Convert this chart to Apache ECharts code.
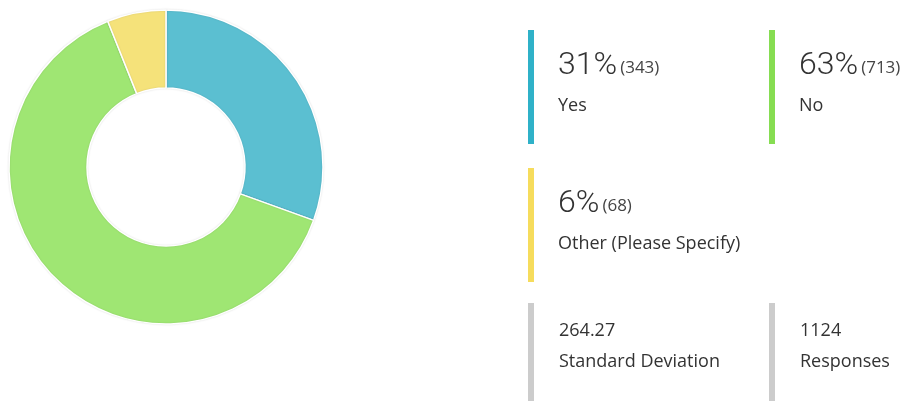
<!DOCTYPE html>
<html>
<head>
<meta charset="utf-8">
<script src="https://cdn.jsdelivr.net/npm/echarts@6/dist/echarts.min.js"></script>
<style>
  html, body { margin: 0; padding: 0; background: #fff; }
  #chart { width: 908px; height: 401px; }
</style>
</head>
<body>
<div id="chart"></div>
<script>
// data
const categories = ['Yes', 'No', 'Other (Please Specify)']
const counts = [343, 713, 68]
const statLabels = ['Standard Deviation', 'Responses']
const statValues = ['264.27', '1124']

const sliceColors = ['#5bbfd1', '#9fe673', '#f5e27a']
const barColors = ['#2fb1c8', '#86dd52', '#f6dc5c']
const BIG_FONT = 'Roboto, "Noto Sans", sans-serif'
const FONT = '"Open Sans", "Noto Sans", sans-serif'

const total = counts.reduce((a, b) => a + b, 0)

// measure text so the small "(n)" sits right after the big percent
const ctx = document.createElement('canvas').getContext('2d')
function textWidth(str, size, weight, family) {
    ctx.font = weight + ' ' + size + 'px ' + family
    return ctx.measureText(str).width
}

// panel grid on the right
const colX = [528, 769]
const rowTop = [30, 168, 303]
const barW = 6

const graphics = []
function textEl(x, baseline, str, size, weight, color, family) {
    return {
        type: 'text',
        x: x,
        y: baseline - size * 0.35,
        style: {
            text: str,
            font: weight + ' ' + size + 'px ' + (family || FONT),
            fill: color,
            verticalAlign: 'middle',
            align: 'left'
        }
    }
}

categories.forEach((name, i) => {
    const x = colX[i % 2]
    const top = rowTop[Math.floor(i / 2)]
    const pct = Math.round(counts[i] / total * 100) + '%'
    graphics.push({
        type: 'rect',
        shape: { x: x, y: top, width: barW, height: 114 },
        style: { fill: barColors[i] }
    })
    const tx = x + 30
    graphics.push(textEl(tx, top + 47, pct, 32, 300, '#333', BIG_FONT))
    const w = textWidth(pct, 32, 300, BIG_FONT)
    graphics.push(textEl(tx + w + 3, top + 44.5, '(' + counts[i] + ')', 17, 400, '#444'))
    graphics.push(textEl(tx, top + 82, name, 18, 400, '#333'))
})

statLabels.forEach((label, i) => {
    const x = colX[i]
    const top = rowTop[2]
    graphics.push({
        type: 'rect',
        shape: { x: x, y: top, width: barW, height: 110 },
        style: { fill: '#cccccc' }
    })
    graphics.push(textEl(x + 31, top + 34.5, statValues[i], 18, 400, '#333'))
    graphics.push(textEl(x + 31, top + 65, label, 18, 400, '#333'))
})

const myChart = echarts.init(document.getElementById('chart'))
myChart.setOption({
    animation: false,
    series: [
        {
            type: 'pie',
            center: [166, 167],
            radius: [79, 157],
            startAngle: 90,
            clockwise: true,
            label: { show: false },
            labelLine: { show: false },
            itemStyle: {
                borderColor: '#fff',
                borderWidth: 1.5,
                shadowBlur: 2,
                shadowColor: 'rgba(0,0,0,0.12)'
            },
            data: categories.map((name, i) => ({
                name: name,
                value: counts[i],
                itemStyle: { color: sliceColors[i] }
            }))
        }
    ],
    graphic: graphics
})
</script>
</body>
</html>
